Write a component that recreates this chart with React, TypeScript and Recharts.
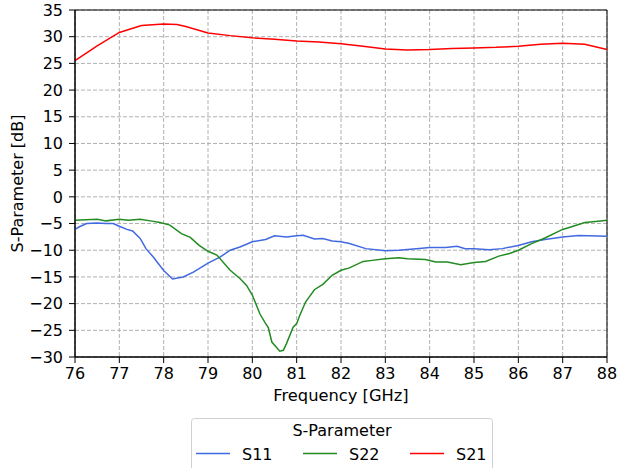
import React from "react";
import {
  LineChart,
  Line,
  XAxis,
  YAxis,
  CartesianGrid,
  Legend,
  ReferenceArea,
  Label,
} from "recharts";

const xTicks = [76, 77, 78, 79, 80, 81, 82, 83, 84, 85, 86, 87, 88];
const yTicks = [-30, -25, -20, -15, -10, -5, 0, 5, 10, 15, 20, 25, 30, 35];

const s11Freq = [76.0, 76.1, 76.26, 76.5, 76.7, 76.86, 77.0, 77.17, 77.3, 77.47, 77.6, 77.77, 78.0, 78.2, 78.44, 78.67, 79.0, 79.27, 79.5, 79.72, 80.0, 80.3, 80.5, 80.77, 81.0, 81.15, 81.4, 81.59, 81.8, 82.0, 82.19, 82.56, 83.0, 83.3, 83.7, 84.0, 84.36, 84.62, 84.8, 85.0, 85.34, 85.64, 86.0, 86.3, 86.6, 87.0, 87.36, 88.0];
const s11Values = [-6.1, -5.6, -5.0, -4.9, -5.0, -5.0, -5.5, -6.1, -6.4, -7.8, -9.7, -11.3, -13.8, -15.4, -15.0, -14.1, -12.4, -11.3, -10.0, -9.4, -8.4, -8.0, -7.3, -7.5, -7.3, -7.2, -7.9, -7.8, -8.25, -8.4, -8.75, -9.7, -10.1, -10.0, -9.7, -9.5, -9.5, -9.25, -9.7, -9.7, -9.9, -9.7, -9.1, -8.4, -8.0, -7.5, -7.25, -7.4];

const s22Freq = [76.0, 76.5, 76.7, 77.0, 77.2, 77.47, 77.7, 77.92, 78.14, 78.4, 78.6, 78.8, 79.0, 79.2, 79.5, 79.72, 79.87, 80.0, 80.17, 80.29, 80.36, 80.44, 80.62, 80.7, 80.77, 80.92, 81.0, 81.06, 81.2, 81.4, 81.59, 81.8, 82.0, 82.19, 82.5, 82.7, 83.0, 83.3, 83.5, 83.9, 84.14, 84.4, 84.7, 85.0, 85.26, 85.56, 85.8, 86.0, 86.3, 86.6, 87.0, 87.2, 87.5, 87.8, 88.0];
const s22Values = [-4.4, -4.2, -4.5, -4.2, -4.4, -4.2, -4.5, -4.8, -5.3, -6.9, -7.6, -9.1, -10.2, -10.9, -13.75, -15.3, -16.6, -18.4, -21.9, -23.6, -24.5, -27.2, -28.9, -28.75, -27.5, -24.4, -23.75, -22.4, -19.7, -17.4, -16.4, -14.7, -13.75, -13.3, -12.1, -11.9, -11.6, -11.4, -11.6, -11.75, -12.2, -12.2, -12.7, -12.3, -12.1, -11.1, -10.6, -10.0, -8.75, -7.7, -6.1, -5.6, -4.8, -4.56, -4.4];

const s21Freq = [76.0, 76.5, 77.0, 77.5, 78.0, 78.3, 78.5, 79.0, 79.5, 80.0, 80.5, 81.0, 81.5, 82.0, 82.5, 83.0, 83.5, 84.0, 84.5, 85.0, 85.5, 86.0, 86.5, 87.0, 87.5, 88.0];
const s21Values = [25.5, 28.3, 30.8, 32.1, 32.4, 32.3, 31.9, 30.7, 30.2, 29.8, 29.5, 29.2, 29.0, 28.7, 28.2, 27.7, 27.5, 27.6, 27.8, 27.9, 28.0, 28.2, 28.6, 28.75, 28.6, 27.6];

const seriesNames = ["S11", "S22", "S21"];
const seriesColors = ["#4169e1", "#228b22", "#ff0000"];

const toPoints = (fs: number[], vs: number[]) => fs.map((f, i) => ({ f, v: vs[i] }));
const seriesData = [
  toPoints(s11Freq, s11Values),
  toPoints(s22Freq, s22Values),
  toPoints(s21Freq, s21Values),
];

const FONT = "'DejaVu Sans', sans-serif";
const fmtTick = (v: number) => String(v).replace("-", "\u2212");

const legendLineX = [5, 112, 219];

const LegendBox = () => (
  <svg width={302} height={60} style={{ display: "block", overflow: "visible" }}>
    <rect x={0.5} y={0.5} width={301} height={70} rx={3} fill="#fff" stroke="#d0d0d0" strokeWidth={1} />
    <text x={151} y={18} textAnchor="middle" fontSize={16} fontFamily={FONT} fill="#000">
      S-Parameter
    </text>
    {seriesNames.map((n, i) => (
      <g key={n}>
        <line x1={legendLineX[i]} x2={legendLineX[i] + 34} y1={35.5} y2={35.5} stroke={seriesColors[i]} strokeWidth={1.5} />
        <text x={legendLineX[i] + 46} y={41.5} fontSize={16} fontFamily={FONT} fill="#000">
          {n}
        </text>
      </g>
    ))}
  </svg>
);

export default function App() {
  return (
    <div style={{ position: "absolute", left: 0, top: 0 }}>
      <style>{`body{margin:0}`}</style>
      <LineChart width={618} height={468} margin={{ top: 10, right: 11, left: 0, bottom: 61 }}>
        <CartesianGrid stroke="#b0b0b0" strokeDasharray="4 2" strokeWidth={1} />
        <XAxis
          dataKey="f"
          type="number"
          domain={[76, 88]}
          ticks={xTicks}
          allowDuplicatedCategory={false}
          height={50}
          stroke="#000"
          tickSize={6}
          tickMargin={5}
          tickFormatter={fmtTick}
          tick={{ fill: "#000", fontSize: 16, fontFamily: FONT }}
        >
          <Label
            content={({ viewBox }: any) => (
              <text x={viewBox.x + viewBox.width / 2} y={401} textAnchor="middle" fontSize={16.3} fontFamily={FONT} fill="#000">
                Frequency [GHz]
              </text>
            )}
          />
        </XAxis>
        <YAxis
          type="number"
          domain={[-30, 35]}
          ticks={yTicks}
          width={75}
          stroke="#000"
          tickSize={6}
          tickMargin={6}
          interval={0}
          tickFormatter={fmtTick}
          tick={{ fill: "#000", fontSize: 16, fontFamily: FONT }}
        >
          <Label
            content={({ viewBox }: any) => {
              const cx = 23;
              const cy = viewBox.y + viewBox.height / 2;
              return (
                <text x={cx} y={cy} transform={`rotate(-90 ${cx} ${cy})`} textAnchor="middle" fontSize={16} fontFamily={FONT} fill="#000">
                  S-Parameter [dB]
                </text>
              );
            }}
          />
        </YAxis>
        <ReferenceArea x1={76} x2={88} y1={-30} y2={35} fill="none" stroke="#000" strokeWidth={1} ifOverflow="visible" />
        {seriesData.map((d, i) => (
          <Line
            key={seriesNames[i]}
            data={d}
            dataKey="v"
            name={seriesNames[i]}
            type="linear"
            stroke={seriesColors[i]}
            strokeWidth={1.5}
            dot={false}
            activeDot={false}
            isAnimationActive={false}
          />
        ))}
        <Legend
          layout="vertical"
          align="center"
          verticalAlign="middle"
          content={() => <LegendBox />}
          wrapperStyle={{ left: 191, top: 418, width: 302, height: 60 }}
        />
      </LineChart>
    </div>
  );
}
